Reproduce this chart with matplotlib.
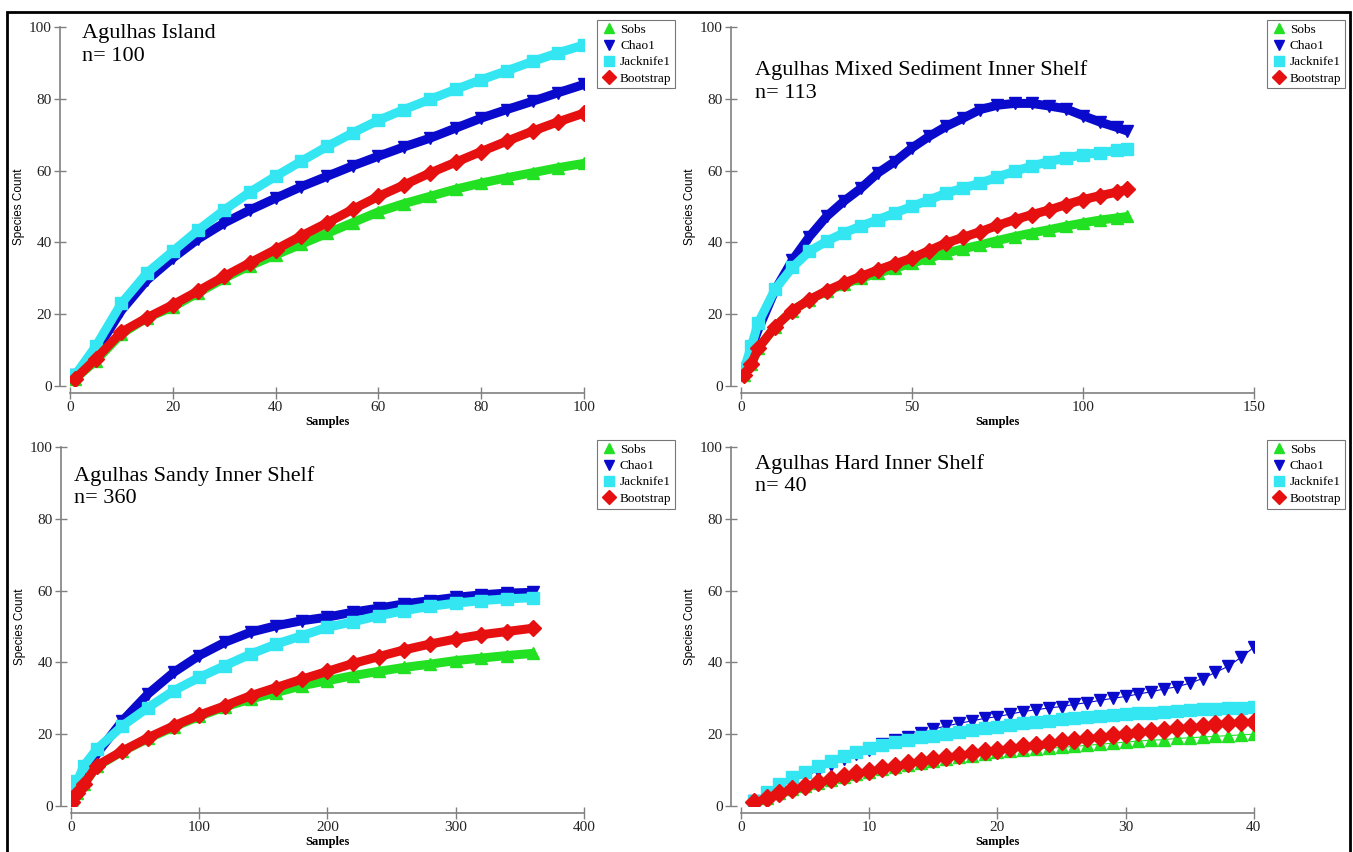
import matplotlib
matplotlib.use("Agg")
import matplotlib.pyplot as plt
from matplotlib.lines import Line2D
from matplotlib.patches import Rectangle

# series colours / markers (same order as legend)
names = ["Sobs", "Chao1", "Jacknife1", "Bootstrap"]
colors = ["#22e022", "#0a0acc", "#33e6f2", "#e61010"]
markers = ["^", "v", "s", "D"]

# --- Agulhas Island, n=100 (read every 5 samples)
x_island = [1, 5, 10, 15, 20, 25, 30, 35, 40, 45, 50, 55, 60, 65, 70, 75, 80, 85, 90, 95, 100]
sobs_island = [2, 7, 14.5, 19, 22, 26, 30, 33.5, 36.5, 39.5, 42.5, 45.5, 48.5, 50.8, 52.8, 54.8, 56.5, 58, 59.4, 60.8, 62]
chao_island = [3, 9.5, 21, 29.5, 35.6, 41, 45.4, 49, 52.3, 55.5, 58.4, 61.3, 64, 66.6, 69, 71.8, 74.6, 77, 79.3, 81.7, 84]
jack_island = [3, 11, 23, 31.5, 37.5, 43.5, 49, 54, 58.4, 62.6, 66.7, 70.5, 74, 77, 79.8, 82.6, 85.3, 87.8, 90.4, 92.8, 95]
boot_island = [2, 7.5, 15, 19, 22.6, 26.5, 30.5, 34.3, 38, 41.8, 45.4, 49.2, 52.8, 56, 59.3, 62.3, 65.3, 68.2, 71, 73.6, 76]

# --- Agulhas Mixed Sediment Inner Shelf, n=113
x_mixed = [1, 3, 5, 10, 15, 20, 25, 30, 35, 40, 45, 50, 55, 60, 65, 70, 75, 80, 85, 90, 95, 100, 105, 110, 113]
sobs_mixed = [3, 6, 10.5, 16.5, 21, 24, 26.4, 28.3, 30, 31.4, 32.8, 34.2, 35.6, 37, 38.2, 39.3, 40.5, 41.6, 42.6, 43.5, 44.5, 45.4, 46.2, 46.8, 47.2]
chao_mixed = [3, 10.5, 15.6, 26.8, 35, 41.6, 47.2, 51.4, 55, 59.3, 62.5, 66.3, 69.5, 72.3, 74.6, 77, 78.2, 78.7, 78.7, 78, 77.2, 75.3, 73.5, 72, 71]
jack_mixed = [5, 11, 17.5, 27, 33, 37.5, 40.3, 42.6, 44.5, 46.3, 48.2, 50, 51.8, 53.7, 55.1, 56.5, 58.2, 59.8, 61.2, 62.5, 63.5, 64.4, 65, 65.6, 66]
boot_mixed = [3, 6, 10.5, 16.5, 21, 24, 26.5, 28.6, 30.5, 32.3, 34, 35.6, 37.7, 39.8, 41.4, 43, 44.7, 46.3, 47.7, 49, 50.5, 51.9, 53, 54, 54.8]

# --- Agulhas Sandy Inner Shelf, n=360
x_sandy = [1, 5, 10, 20, 40, 60, 80, 100, 120, 140, 160, 180, 200, 220, 240, 260, 280, 300, 320, 340, 360]
sobs_sandy = [1, 3.5, 6, 11, 15.2, 18.8, 22, 25, 27.6, 29.8, 31.6, 33.5, 34.9, 36.3, 37.5, 38.6, 39.5, 40.5, 41.2, 41.9, 42.5]
chao_sandy = [1, 5, 9, 14.5, 23.7, 31.2, 37.2, 41.9, 45.6, 48.4, 50.2, 51.6, 52.6, 54, 55.1, 56.3, 57.2, 58.1, 58.8, 59.3, 59.5]
jack_sandy = [2, 7, 11.2, 15.8, 22.3, 27.4, 32.1, 35.8, 39.1, 42.3, 45.1, 47.4, 49.8, 51.3, 53, 54.4, 55.6, 56.5, 57.2, 57.7, 58]
boot_sandy = [1, 3.5, 6, 11.2, 15.3, 19, 22.3, 25.3, 27.9, 30.7, 33, 35.3, 37.5, 39.7, 41.6, 43.5, 45.1, 46.5, 47.7, 48.6, 49.5]

# --- Agulhas Hard Inner Shelf, n=40 (every sample)
x_hard = list(range(1, 41))
sobs_hard = [1.1, 2.3, 3.6, 4.6, 5.5, 6.5, 7.3, 8.2, 8.9, 9.6, 10.3, 10.9, 11.5, 12, 12.6, 13.1, 13.6, 14, 14.5, 14.9,
             15.2, 15.5, 15.8, 16.1, 16.3, 16.6, 16.9, 17.2, 17.5, 17.8, 18.1, 18.3, 18.5, 18.8, 19, 19.2, 19.4, 19.6, 19.8, 20]
chao_hard = [1.3, 3.5, 5.3, 7, 8.4, 9.8, 11.3, 13, 14.4, 15.6, 17.2, 18.4, 19.3, 20.2, 21.4, 22.3, 23, 23.7, 24.4, 24.9,
             25.6, 26.3, 26.8, 27.3, 27.7, 28.3, 28.8, 29.4, 30, 30.5, 31.2, 31.8, 32.6, 33.2, 34.2, 35.5, 37.2, 38.9, 41.4, 44.2]
jack_hard = [1.5, 4, 6, 8.2, 9.5, 11.2, 12.6, 14, 14.9, 16.1, 16.9, 17.7, 18.3, 19.1, 19.5, 20, 20.7, 21.2, 21.7, 22.1,
             22.6, 23, 23.3, 23.7, 24.1, 24.4, 24.7, 25, 25.3, 25.6, 25.8, 26, 26.3, 26.4, 26.6, 26.9, 27.1, 27.3, 27.4, 27.7]
boot_hard = [1.1, 2.3, 3.7, 4.7, 5.6, 6.7, 7.4, 8.4, 9.1, 9.8, 10.5, 11.2, 11.9, 12.4, 13, 13.7, 14.1, 14.7, 15.2, 15.6,
             16.1, 16.7, 17.1, 17.6, 18, 18.4, 18.9, 19.3, 19.7, 20.1, 20.5, 20.8, 21.3, 21.7, 22, 22.3, 22.7, 23, 23.4, 23.5]

panels = [
    ("Agulhas Island\nn= 100", x_island, [sobs_island, chao_island, jack_island, boot_island], 100, 20, True),
    ("Agulhas Mixed Sediment Inner Shelf\nn= 113", x_mixed, [sobs_mixed, chao_mixed, jack_mixed, boot_mixed], 150, 50, True),
    ("Agulhas Sandy Inner Shelf\nn= 360", x_sandy, [sobs_sandy, chao_sandy, jack_sandy, boot_sandy], 400, 100, True),
    ("Agulhas Hard Inner Shelf\nn= 40", x_hard, [sobs_hard, chao_hard, jack_hard, boot_hard], 40, 10, False),
]

# axes boxes in figure fractions (left, bottom, width, height)
boxes = [(0.0517, 0.547, 0.380, 0.4214),
         (0.5477, 0.547, 0.379, 0.4214),
         (0.0525, 0.054, 0.379, 0.4214),
         (0.5477, 0.054, 0.379, 0.4214)]
title_pos = [(0.023, 0.95), (0.027, 0.848), (0.006, 0.889), (0.027, 0.922)]

serif = "Liberation Serif"
fig = plt.figure(figsize=(13.53, 8.52), dpi=100)

for i, (title, xs, ys, xmax, xstep, dense) in enumerate(panels):
    ax = fig.add_axes(boxes[i])
    for name, y, c, m in zip(names, ys, colors, markers):
        if dense:
            ax.plot(xs, y, color=c, lw=6.5, marker=m, ms=8, mec=c, solid_capstyle="butt")
        else:
            ax.plot(xs, y, color=c, lw=0.8, marker=m, ms=9, mec=c)
    ax.set_xlim(0, xmax)
    ax.set_ylim(0, 100)
    ax.set_xticks(range(0, xmax + 1, xstep))
    ax.set_yticks(range(0, 101, 20))
    for side in ["top", "right"]:
        ax.spines[side].set_visible(False)
    ax.spines["left"].set_position(("outward", 7))
    ax.spines["bottom"].set_position(("outward", 5))
    ax.spines["left"].set_bounds(0, 100)
    ax.spines["bottom"].set_bounds(0, xmax)
    for side in ["left", "bottom"]:
        ax.spines[side].set_color("#808080")
        ax.spines[side].set_linewidth(1.2)
    ax.tick_params(direction="inout", length=8, width=1, color="#808080",
                   labelsize=11, pad=2, labelcolor="#222222")
    for lab in ax.get_xticklabels() + ax.get_yticklabels():
        lab.set_fontfamily(serif)
    ax.set_xlabel("Samples", fontsize=9, fontfamily=serif, fontweight="bold", labelpad=1)
    ax.set_ylabel("Species Count", fontsize=8.5, fontfamily="Liberation Sans")
    ax.yaxis.set_label_coords(-0.088, 0.5)
    ax.text(title_pos[i][0], title_pos[i][1], title, transform=ax.transAxes,
            fontsize=16, fontfamily=serif, va="center", ha="left", linespacing=1.25)
    handles = [Line2D([], [], ls="none", marker=m, color=c, mec=c, ms=7)
               for m, c in zip(markers, colors)]
    leg = ax.legend(handles, names, loc="upper left", bbox_to_anchor=(1.025, 1.02),
                    prop={"family": serif, "size": 9.5}, frameon=True, fancybox=False,
                    borderpad=0.3, handletextpad=0.25, handlelength=1.2, labelspacing=0.3,
                    borderaxespad=0)
    leg.get_frame().set_edgecolor("#555555")
    leg.get_frame().set_linewidth(0.8)

# outer frame
fig.patches.append(Rectangle((0.005, -0.02), 0.993, 1.006, transform=fig.transFigure,
                             fill=False, edgecolor="black", lw=2))

fig.savefig("out.png", dpi=100)
